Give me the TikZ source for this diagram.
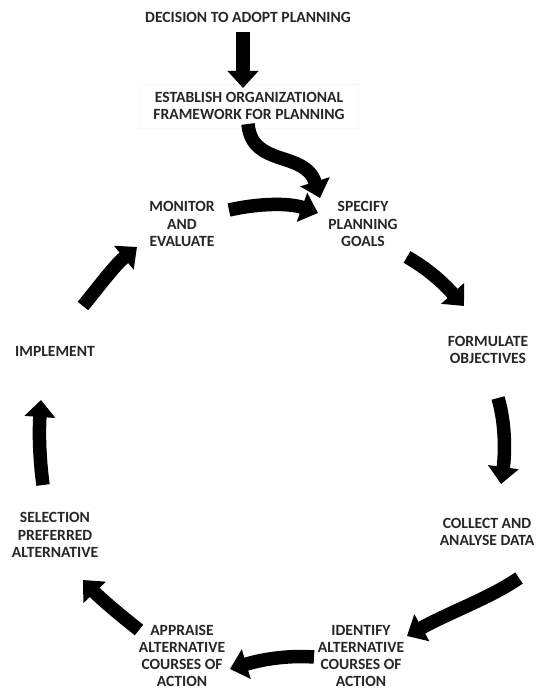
\documentclass[tikz,border=0pt]{standalone}
\usepackage{fontspec}
\setmainfont{Carlito}
\usetikzlibrary{arrows.meta}
\begin{document}
\begin{tikzpicture}[x=1pt,y=-1pt,
  lbl/.style={font=\bfseries\fontsize{15.6}{17.2}\selectfont, text=black!85, align=center, inner sep=0pt},
  blk/.style={line width=13.5pt, draw=black, -{Triangle[width=30pt,length=17pt]}}]
\useasboundingbox (0,0) rectangle (536,690);
\node[lbl] (decision) at (248,17) {DECISION TO ADOPT PLANNING};
\node[lbl, draw=black!3, inner xsep=14pt, inner ysep=8pt] (establish) at (249,106) {ESTABLISH ORGANIZATIONAL\\FRAMEWORK FOR PLANNING};
\node[lbl] (monitor) at (182,224) {MONITOR\\AND\\EVALUATE};
\node[lbl] (specify) at (363,224) {SPECIFY\\PLANNING\\GOALS};
\node[lbl] (formulate) at (488,350) {FORMULATE\\OBJECTIVES};
\node[lbl] (collect) at (487,532) {COLLECT AND\\ANALYSE DATA};
\node[lbl] (identify) at (361,656) {IDENTIFY\\ALTERNATIVE\\COURSES OF\\ACTION};
\node[lbl] (appraise) at (182,656) {APPRAISE\\ALTERNATIVE\\COURSES OF\\ACTION};
\node[lbl] (selection) at (55,535) {SELECTION\\PREFERRED\\ALTERNATIVE};
\node[lbl] (implement) at (55,351) {IMPLEMENT};
% arrow end points
\coordinate (a1s) at (243,32);  \coordinate (a1e) at (243,88);
\coordinate (a2s) at (248,124); \coordinate (a2e) at (320,198);
\coordinate (a3s) at (229,210); \coordinate (a3e) at (318,213);
\coordinate (a4s) at (407,257); \coordinate (a4e) at (464,306);
\coordinate (a5s) at (498,398); \coordinate (a5e) at (501,484);
\coordinate (a6s) at (519,578); \coordinate (a6e) at (407,636);
\coordinate (a7s) at (314,657); \coordinate (a7e) at (230,669);
\coordinate (a8s) at (139,630); \coordinate (a8e) at (83,580);
\coordinate (a9s) at (43,485);  \coordinate (a9e) at (41,400);
\coordinate (a10s) at (83,306); \coordinate (a10e) at (137,247);
\draw[blk] (a1s) -- (a1e);
\draw[blk] (a2s) .. controls (252,168) and (305,150) .. (a2e);
\draw[blk] (a3s) .. controls (260,203) and (290,203) .. (a3e);
\draw[blk] (a4s) .. controls (430,270) and (445,285) .. (a4e);
\draw[blk] (a5s) .. controls (506,425) and (505,455) .. (a5e);
\draw[blk] (a6s) .. controls (490,598) and (450,612) .. (a6e);
\draw[blk] (a7s) .. controls (285,655) and (260,660) .. (a7e);
\draw[blk] (a8s) .. controls (120,615) and (100,598) .. (a8e);
\draw[blk] (a9s) .. controls (39,455) and (39,430) .. (a9e);
\draw[blk] (a10s) .. controls (100,285) and (115,265) .. (a10e);
\end{tikzpicture}
\end{document}
